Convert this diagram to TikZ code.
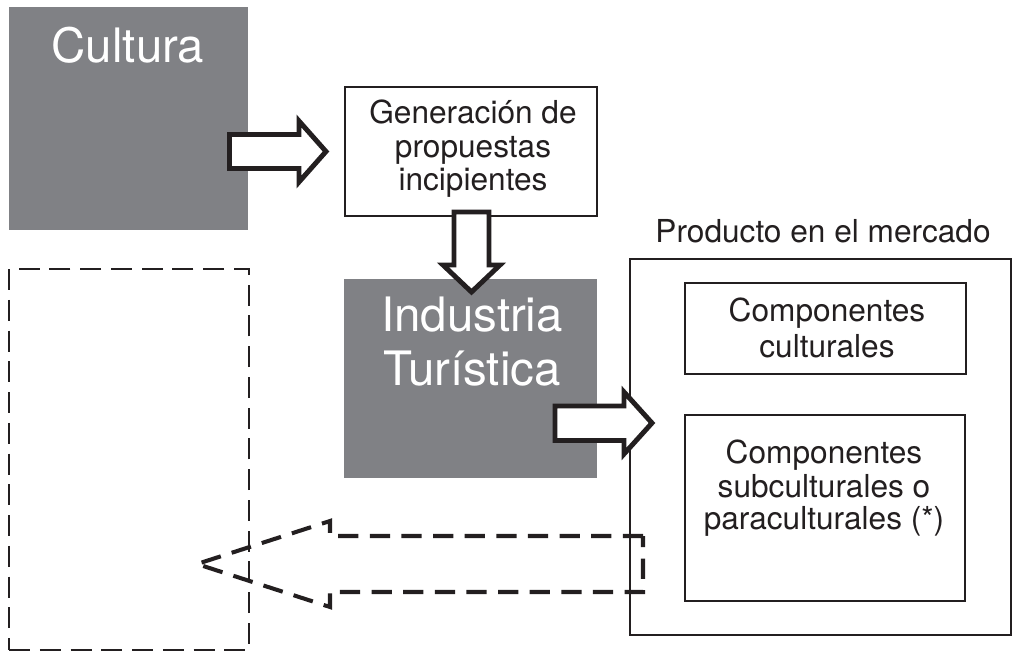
\documentclass[tikz,border=0pt]{standalone}
\usepackage{fontspec}
\setmainfont{TeX Gyre Heros}
\definecolor{cgray}{RGB}{128,129,133}
\definecolor{ink}{RGB}{35,31,32}
\begin{document}
\begin{tikzpicture}[x=0.02cm,y=-0.02cm,
  graybox/.style={fill=cgray, draw=none, inner sep=0, outer sep=0},
  whitebox/.style={draw=ink, line width=1.1pt, fill=white, inner sep=0, outer sep=0},
  dashbox/.style={draw=ink, line width=1.1pt, dash pattern=on 12pt off 5.5pt, inner sep=0},
  blockarrow/.style={draw=ink, fill=white, line width=2.8pt, line join=miter},
  dasharrow/.style={draw=ink, line width=2.3pt, dash pattern=on 11.5pt off 6.5pt, line join=miter},
  smalltxt/.style={font=\fontsize{18}{20}\selectfont, text=ink, anchor=base, inner sep=0},
  bigtxt/.style={font=\fontsize{27}{30}\selectfont, text=white, anchor=base, inner sep=0}]
\useasboundingbox (0,0) rectangle (1022,653);

% boxes
\node[graybox, minimum width=4.78cm, minimum height=4.46cm] (cultura) at (128.5,118.5) {};
\node[graybox, minimum width=5.06cm, minimum height=3.98cm] (industria) at (470.5,378.5) {};
\node[whitebox, minimum width=5.04cm, minimum height=2.58cm] (generacion) at (471,151.5) {};
\node[whitebox, minimum width=7.62cm, minimum height=7.52cm] (producto) at (820.5,447) {};
\node[whitebox, minimum width=5.62cm, minimum height=1.82cm] (culturales) at (825.5,328.5) {};
\node[whitebox, minimum width=5.6cm, minimum height=3.72cm] (subculturales) at (825,508) {};
\node[dashbox, minimum width=4.8cm, minimum height=7.62cm] (vacio) at (129,459.5) {};

% block arrows
\draw[blockarrow] (229.5,134.5) -- (299,134.5) -- (299,121) -- (326,151.5) -- (299,182) -- (299,168.5) -- (229.5,168.5) -- cycle;
\draw[blockarrow] (454,212) -- (489,212) -- (489,265) -- (500,265) -- (471.5,292) -- (443,265) -- (454,265) -- cycle;
\draw[blockarrow] (555,406) -- (624,406) -- (624,392) -- (652,423) -- (624,454) -- (624,440.5) -- (555,440.5) -- cycle;

% dashed arrow
\draw[dasharrow] (643,536) -- (330,536) -- (330,521) -- (197,564) -- (330,607) -- (330,592) -- (643,592) -- cycle;

% texts
\node[bigtxt] (tcultura) at (128,62) {Cultura};
\node[bigtxt] (tind1) at (472,331) {Industria};
\node[bigtxt] (tind2) at (472,385) {Turística};
\node[smalltxt] (tgen1) at (473,123) {Generación de};
\node[smalltxt] (tgen2) at (473,157) {propuestas};
\node[smalltxt] (tgen3) at (473,190) {incipientes};
\node[smalltxt] (tprod) at (823,242) {Producto en el mercado};
\node[smalltxt] (tcul1) at (827,321) {Componentes};
\node[smalltxt] (tcul2) at (827,357) {culturales};
\node[smalltxt] (tsub1) at (824,463) {Componentes};
\node[smalltxt] (tsub2) at (824,497) {subculturales o};
\node[smalltxt] (tsub3) at (824,529) {paraculturales (*)};
\end{tikzpicture}
\end{document}
